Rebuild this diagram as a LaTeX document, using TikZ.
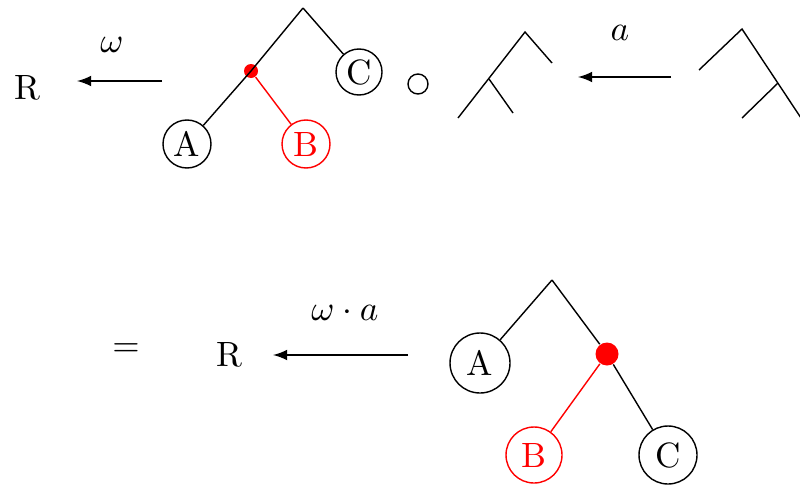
\documentclass[tikz,border=0pt]{standalone}
\usetikzlibrary{positioning}
\begin{document}
\begin{tikzpicture}[
    leaf/.style={draw, circle, inner sep=1pt, minimum size=#1},
    leaf/.default=0.48cm,
    graft/.style={circle, fill=red, inner sep=0pt, minimum size=#1},
    graft/.default=0.14cm,
    hom/.style={-latex}
]
\useasboundingbox (0,0) rectangle (8,-4.85);

% Top row: R <- tree o skeleton <- skeleton
\node (r1) at (0.27,-0.88) {R};
\coordinate (w1s) at (1.62,-0.81);
\coordinate (w1e) at (0.77,-0.81);
\draw[hom] (w1s) -- (w1e);
\node (w1) at (1.12,-0.45) {$\omega$};

% Tree with grafted B
\coordinate (t1) at (3.03,-0.08);
\node[leaf] (t1a) at (1.87,-1.44) {A};
\node[leaf, red] (t1b) at (3.06,-1.44) {B};
\node[leaf=0.46cm] (t1c) at (3.59,-0.72) {C};
\node[graft] (t1g) at (2.51,-0.71) {};
\draw[red] (t1g) -- (t1b);
\draw (t1) -- (t1g.center) -- (t1a);
\draw (t1) -- (t1c);

% Composition
\node[draw, circle, inner sep=0pt, minimum size=0.2cm] (comp) at (4.18,-0.84) {};

% Skeleton 1
\coordinate (s1) at (5.25,-0.32);
\coordinate (s1r) at (5.52,-0.63);
\coordinate (s1i) at (4.89,-0.79);
\coordinate (s1l) at (4.58,-1.18);
\coordinate (s1m) at (5.13,-1.13);
\draw (s1r) -- (s1) -- (s1l);
\draw (s1i) -- (s1m);

% Arrow a
\coordinate (as) at (6.71,-0.77);
\coordinate (ae) at (5.78,-0.77);
\draw[hom] (as) -- (ae);
\node (al) at (6.20,-0.33) {$a$};

% Skeleton 2
\coordinate (s2) at (7.42,-0.29);
\coordinate (s2l) at (6.99,-0.70);
\coordinate (s2i) at (7.78,-0.83);
\coordinate (s2r) at (8.01,-1.18);
\coordinate (s2m) at (7.42,-1.18);
\draw (s2l) -- (s2) -- (s2r);
\draw (s2i) -- (s2m);

% Bottom row: = R <- tree
\node (eq) at (1.26,-3.50) {$=$};
\node (r2) at (2.29,-3.55) {R};
\coordinate (w2s) at (4.08,-3.55);
\coordinate (w2e) at (2.73,-3.55);
\draw[hom] (w2s) -- (w2e);
\node (w2) at (3.45,-3.13) {$\omega\cdot a$};

\coordinate (t2) at (5.52,-2.80);
\node[leaf=0.6cm] (t2a) at (4.80,-3.63) {A};
\node[leaf=0.56cm, red] (t2b) at (5.34,-4.55) {B};
\node[leaf=0.58cm] (t2c) at (6.68,-4.55) {C};
\node[graft=0.23cm] (t2g) at (6.07,-3.54) {};
\draw (t2) -- (t2a);
\draw (t2) -- (t2g);
\draw (t2g) -- (t2c);
\draw[red] (t2g) -- (t2b);

\end{tikzpicture}
\end{document}
